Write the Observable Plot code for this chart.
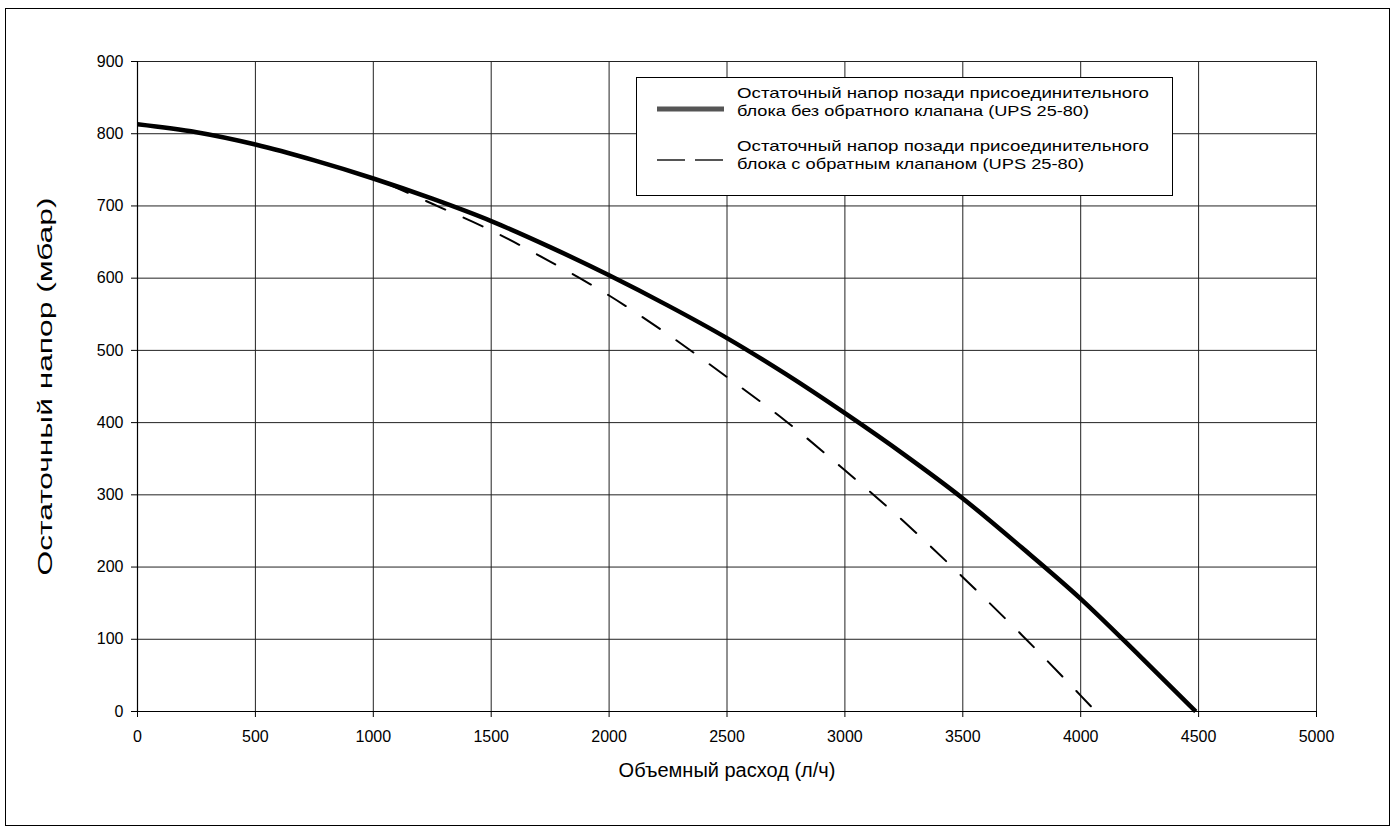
<!DOCTYPE html>
<html>
<head>
<meta charset="utf-8">
<script src="https://cdn.jsdelivr.net/npm/d3@7"></script>
<script src="https://cdn.jsdelivr.net/npm/@observablehq/plot@0.6"></script>
<style>
  html, body { margin: 0; padding: 0; background: #fff; }
  #wrap { position: relative; width: 1396px; height: 830px; font-family: "Liberation Sans", Arial, Helvetica, sans-serif; }
  #border { position: absolute; left: 5px; top: 8px; width: 1383px; height: 816px; border: 1.5px solid #000; pointer-events: none; }
  #legend { position: absolute; left: 636px; top: 77px; width: 535px; height: 117px; border: 1px solid #000; background: #fff; }
  #legend svg { position: absolute; left: 0; top: 0; }
</style>
</head>
<body>
<div id="wrap">
  <div id="chart"></div>
  <div id="legend"></div>
  <div id="border"></div>
</div>
<script>
// --- data ---
const flowSolid = [0, 250, 500, 750, 1000, 1250, 1500, 1750, 2000, 2250, 2500, 2750, 3000, 3250, 3500, 3750, 4000, 4250, 4488];
const headSolid = [813, 802, 785, 763, 738, 710, 679, 643, 604, 562, 517, 467, 413, 356, 295, 227, 156, 77, 0];
const flowDashed = [1065, 1250, 1500, 1750, 2000, 2250, 2500, 2750, 3000, 3250, 3500, 3750, 4000, 4064];
const headDashed = [730, 703, 666, 623, 576, 522, 463, 402, 334, 263, 186, 106, 22, 0];
const xTicks = [0, 500, 1000, 1500, 2000, 2500, 3000, 3500, 4000, 4500, 5000];
const yTicks = [0, 100, 200, 300, 400, 500, 600, 700, 800, 900];
const seriesNames = [
  ["Остаточный напор позади присоединительного", "блока без обратного клапана (UPS 25-80)"],
  ["Остаточный напор позади присоединительного", "блока с обратным клапаном (UPS 25-80)"]
];
const xTitle = "Объемный расход (л/ч)";
const yTitle = "Остаточный напор (мбар)";

const solid = flowSolid.map((f, i) => ({flow: f, head: headSolid[i]}));
const dashed = flowDashed.map((f, i) => ({flow: f, head: headDashed[i]}));

const chart = Plot.plot({
  width: 1396,
  height: 830,
  marginLeft: 137,
  marginRight: 80,
  marginTop: 61,
  marginBottom: 119,
  style: {fontFamily: "'Liberation Sans', Arial, Helvetica, sans-serif", fontSize: "16px", color: "#000", background: "transparent"},
  x: {domain: [0, 5000]},
  y: {domain: [0, 900]},
  marks: [
    Plot.gridX(xTicks, {stroke: "#222", strokeOpacity: 1, strokeWidth: 1}),
    Plot.gridY(yTicks, {stroke: "#222", strokeOpacity: 1, strokeWidth: 1}),
    Plot.axisX(xTicks, {tickSize: 6, tickPadding: 13, label: null, tickFormat: d => String(d), fontSize: 16}),
    Plot.axisY(yTicks, {tickSize: 6, tickPadding: 8, label: null, tickFormat: d => String(d), fontSize: 16}),
    Plot.ruleX([0], {stroke: "#000", strokeWidth: 1.2}),
    Plot.ruleY([0], {stroke: "#000", strokeWidth: 1.2}),
    Plot.text([xTitle], {frameAnchor: "bottom", dy: 65, fontSize: 20, fill: "#000"}),
    Plot.text([yTitle], {frameAnchor: "left", textAnchor: "middle", rotate: -90, dx: -92, fontSize: 20, fill: "#000"}),
    Plot.line(dashed, {x: "flow", y: "head", stroke: "#000", strokeWidth: 2, strokeDasharray: "21,20", curve: "monotone-x"}),
    Plot.line(solid, {x: "flow", y: "head", stroke: "#000", strokeWidth: 4.5, curve: "monotone-x", strokeLinecap: "butt"})
  ]
});
document.getElementById("chart").appendChild(chart);

// stretch y title to the reference's length
chart.querySelectorAll("text").forEach(t => {
  if (t.textContent === yTitle) {
    t.setAttribute("textLength", 378);
    t.setAttribute("lengthAdjust", "spacingAndGlyphs");
  }
});

// legend
const lineLens = [[412, 352], [412, 347]];
const legend = document.getElementById("legend");
legend.innerHTML = `
<svg width="535" height="117" font-family="'Liberation Sans', Arial, Helvetica, sans-serif" font-size="15">
  <line x1="20" x2="87" y1="31" y2="31" stroke="#555" stroke-width="5"/>
  <line x1="20" x2="87" y1="82" y2="82" stroke="#555" stroke-width="2" stroke-dasharray="28,10"/>
  <text x="100" y="20" textLength="${lineLens[0][0]}" lengthAdjust="spacingAndGlyphs">${seriesNames[0][0]}</text>
  <text x="100" y="38" textLength="${lineLens[0][1]}" lengthAdjust="spacingAndGlyphs">${seriesNames[0][1]}</text>
  <text x="100" y="73" textLength="${lineLens[1][0]}" lengthAdjust="spacingAndGlyphs">${seriesNames[1][0]}</text>
  <text x="100" y="91" textLength="${lineLens[1][1]}" lengthAdjust="spacingAndGlyphs">${seriesNames[1][1]}</text>
</svg>`;
</script>
</body>
</html>
